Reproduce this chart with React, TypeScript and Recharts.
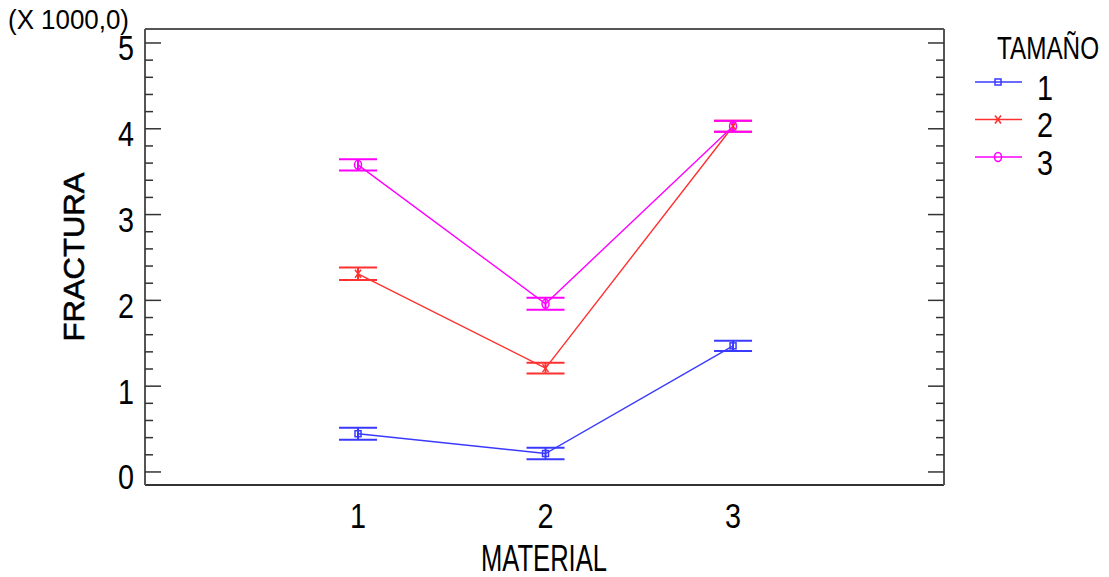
import { LineChart, Line, XAxis, YAxis, ErrorBar } from 'recharts';

// MATERIAL categories (x) and FRACTURA means by TAMAÑO, with interval half-widths
const materials = [1, 2, 3];
const tamano1 = [446, 215, 1470];
const tamano2 = [2310, 1210, 4030];
const tamano3 = [3580, 1960, 4030];
const tamano1Err = [70, 66, 60];
const tamano2Err = [72, 62, 64];
const tamano3Err = [66, 70, 64];
const yTicks = [0, 200, 400, 600, 800, 1000, 1200, 1400, 1600, 1800, 2000, 2200, 2400, 2600, 2800, 3000, 3200, 3400, 3600, 3800, 4000, 4200, 4400, 4600, 4800, 5000];
const xTicks = [1, 2, 3];

const FONT = "'Liberation Sans', Arial, sans-serif";
const W = 1109;
const H = 577;
const PL = 145; // plot left
const PR = 944; // plot right

const series = [
  { key: 't1', name: '1', color: '#3a3aff', marker: 'square' },
  { key: 't2', name: '2', color: '#ff3030', marker: 'x' },
  { key: 't3', name: '3', color: '#ff00ff', marker: 'circle' },
];

const data = materials.map((m, i) => ({
  material: m,
  t1: tamano1[i], t1e: tamano1Err[i],
  t2: tamano2[i], t2e: tamano2Err[i],
  t3: tamano3[i], t3e: tamano3Err[i],
}));

function Marker({ cx, cy, kind, color }: { cx: number; cy: number; kind: string; color: string }) {
  if (kind === 'square') {
    return <rect x={cx - 3} y={cy - 3} width={6} height={6} fill="none" stroke={color} strokeWidth={1.5} />;
  }
  if (kind === 'x') {
    return (
      <g stroke={color} strokeWidth={1.5}>
        <line x1={cx - 3} y1={cy - 4} x2={cx + 3} y2={cy + 4} />
        <line x1={cx + 3} y1={cy - 4} x2={cx - 3} y2={cy + 4} />
      </g>
    );
  }
  return <ellipse cx={cx} cy={cy} rx={3.5} ry={4.5} fill="none" stroke={color} strokeWidth={1.5} />;
}

// narrow, tall digits like the original
const Digit = ({ x, y, anchor, children }: { x: number; y: number; anchor: string; children: any }) => (
  <text
    x={x}
    y={y}
    textAnchor={anchor}
    dominantBaseline="central"
    fontSize={35}
    fontFamily={FONT}
    fill="#000"
    textLength={16}
    lengthAdjust="spacingAndGlyphs"
  >
    {children}
  </text>
);

const LeftTick = (props: any) => {
  const { y, payload } = props;
  const major = payload.value % 1000 === 0;
  return (
    <g>
      <line x1={PL} x2={PL + (major ? 16 : 8)} y1={y} y2={y} stroke="#333" strokeWidth={1.5} />
      {major && <Digit x={134} y={y + 5} anchor="end">{payload.value / 1000}</Digit>}
    </g>
  );
};

const RightTick = (props: any) => {
  const { y, payload } = props;
  const major = payload.value % 1000 === 0;
  return <line x1={PR} x2={PR - (major ? 16 : 8)} y1={y} y2={y} stroke="#333" strokeWidth={1.5} />;
};

const BottomTick = (props: any) => {
  const { x, payload } = props;
  return <Digit x={x} y={515} anchor="middle">{payload.value}</Digit>;
};

export default function App() {
  return (
    <div style={{ position: 'absolute', left: 0, top: 0, width: W, height: H, background: '#fff' }}>
      <LineChart width={W} height={H} data={data} margin={{ top: 28, right: 164, left: 0, bottom: 0 }}>
        <XAxis
          dataKey="material"
          type="number"
          domain={[-0.136, 4.125]}
          ticks={xTicks}
          interval={0}
          allowDataOverflow
          height={92}
          tickLine={false}
          axisLine={{ stroke: '#333', strokeWidth: 2 }}
          tick={<BottomTick />}
        />
        <XAxis
          xAxisId="top"
          orientation="top"
          type="number"
          domain={[-0.136, 4.125]}
          height={1}
          tick={false}
          tickLine={false}
          axisLine={{ stroke: '#555', strokeWidth: 2 }}
        />
        <YAxis
          type="number"
          domain={[-152, 5163]}
          ticks={yTicks}
          interval={0}
          allowDataOverflow
          width={145}
          tickLine={false}
          axisLine={{ stroke: '#555', strokeWidth: 2 }}
          tick={<LeftTick />}
        />
        <YAxis
          yAxisId="r"
          orientation="right"
          type="number"
          domain={[-152, 5163]}
          ticks={yTicks}
          interval={0}
          allowDataOverflow
          width={1}
          tickLine={false}
          axisLine={{ stroke: '#555', strokeWidth: 2 }}
          tick={<RightTick />}
        />
        {series.map((s) => (
          <Line
            key={s.key}
            dataKey={s.key}
            name={s.name}
            type="linear"
            stroke={s.color}
            strokeWidth={1.4}
            isAnimationActive={false}
            dot={(p: any) => <Marker key={`${s.key}-${p.index}`} cx={p.cx} cy={p.cy} kind={s.marker} color={s.color} />}
            activeDot={false}
          >
            <ErrorBar dataKey={`${s.key}e`} width={19} direction="y" stroke={s.color} strokeWidth={2} isAnimationActive={false} />
          </Line>
        ))}
      </LineChart>
      <svg width={W} height={H} style={{ position: 'absolute', left: 0, top: 0, pointerEvents: 'none' }}>
        <text x={8} y={19} dominantBaseline="central" fontSize={28} fontFamily={FONT} textLength={121} lengthAdjust="spacingAndGlyphs">
          (X 1000,0)
        </text>
        <text
          transform="translate(74 257) rotate(-90)"
          textAnchor="middle"
          dominantBaseline="central"
          fontSize={29}
          fontFamily={FONT}
          textLength={169}
          lengthAdjust="spacingAndGlyphs"
          stroke="#000"
          strokeWidth={0.6}
        >
          FRACTURA
        </text>
        <text x={544} y={558} textAnchor="middle" dominantBaseline="central" fontSize={37} fontFamily={FONT} textLength={126} lengthAdjust="spacingAndGlyphs">
          MATERIAL
        </text>
        <text x={997} y={48} dominantBaseline="central" fontSize={31} fontFamily={FONT} textLength={102} lengthAdjust="spacingAndGlyphs">
          TAMAÑO
        </text>
        {series.map((s, i) => {
          const y = 82 + i * 37.5;
          return (
            <g key={s.key}>
              <line x1={975} x2={1022} y1={y} y2={y} stroke={s.color} strokeWidth={1.4} />
              <Marker cx={998} cy={y} kind={s.marker} color={s.color} />
              <Digit x={1037} y={y + 5} anchor="start">{s.name}</Digit>
            </g>
          );
        })}
      </svg>
    </div>
  );
}
